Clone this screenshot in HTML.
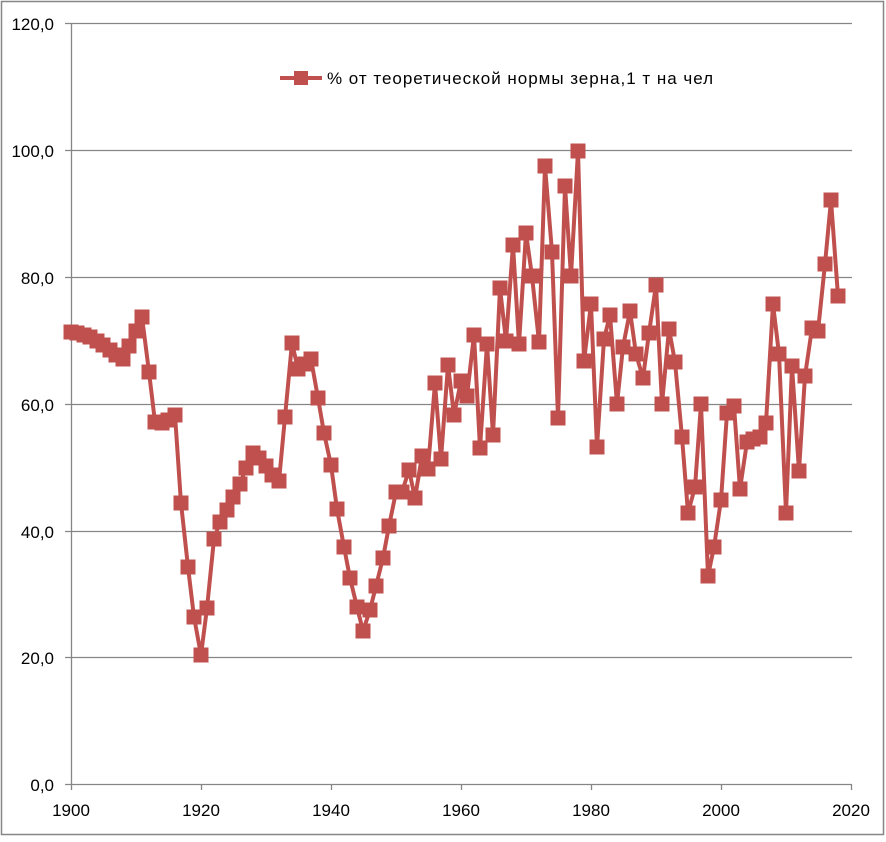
<!DOCTYPE html>
<html><head><meta charset="utf-8"><style>
body{margin:0;background:#fff;}
svg text{font-family:"Liberation Sans",sans-serif;font-size:17px;fill:#000;}
</style></head><body>
<svg width="886" height="837" xmlns="http://www.w3.org/2000/svg">
<rect x="0" y="0" width="886" height="837" fill="#fff"/>
<rect x="1.5" y="1.5" width="882" height="833" fill="none" stroke="#868686" stroke-width="1.5"/>
<g stroke="#868686" stroke-width="1.3">
<line x1="65" y1="23.5" x2="852" y2="23.5"/>
<line x1="65" y1="150.5" x2="852" y2="150.5"/>
<line x1="65" y1="277.5" x2="852" y2="277.5"/>
<line x1="65" y1="404.5" x2="852" y2="404.5"/>
<line x1="65" y1="531.5" x2="852" y2="531.5"/>
<line x1="65" y1="657.5" x2="852" y2="657.5"/>
<line x1="65" y1="784.5" x2="852" y2="784.5"/>
<line x1="71.5" y1="23" x2="71.5" y2="790"/>
<line x1="201.5" y1="784" x2="201.5" y2="790"/>
<line x1="331.5" y1="784" x2="331.5" y2="790"/>
<line x1="461.5" y1="784" x2="461.5" y2="790"/>
<line x1="591.5" y1="784" x2="591.5" y2="790"/>
<line x1="721.5" y1="784" x2="721.5" y2="790"/>
<line x1="851.5" y1="784" x2="851.5" y2="790"/>
</g>
<g text-anchor="end">
<text x="54" y="30">120,0</text><text x="54" y="157">100,0</text><text x="54" y="284">80,0</text>
<text x="54" y="411">60,0</text><text x="54" y="538">40,0</text><text x="54" y="664">20,0</text><text x="54" y="791">0,0</text>
</g>
<g text-anchor="middle">
<text x="71" y="816">1900</text><text x="201" y="816">1920</text><text x="331" y="816">1940</text>
<text x="461" y="816">1960</text><text x="591" y="816">1980</text><text x="721" y="816">2000</text><text x="851" y="816">2020</text>
</g>
<polyline id="s" fill="none" stroke="#c0504d" stroke-width="4" stroke-linejoin="round" points="71,332 77,333 84,335 90,337 97,341 103,345 110,350 116,355 123,359 129,346 136,331 142,317 149,372 155,422 162,423 168,420 175,415 181,503 188,567 194,617 201,655 207,608 214,539 220,522 227,510 233,497 240,484 246,468 253,453 259,458 266,466 272,475 279,481 285,417 292,343 298,369 305,364 311,359 318,398 324,433 331,465 337,509 344,547 350,578 357,607 363,631 370,610 376,586 383,558 389,526 396,492 402,492 409,470 415,498 422,456 428,469 435,383 441,459 448,365 454,415 461,381 467,396 474,335 480,448 487,344 493,435 500,288 506,341 513,245 519,344 526,233 532,276 539,342 545,166 552,252 558,418 565,186 571,276 578,151 584,361 591,304 597,447 604,339 610,315 617,404 623,347 630,311 636,354 643,378 649,333 656,285 662,404 669,329 675,362 682,437 688,513 695,487 701,404 708,576 714,547 721,500 727,413 734,406 740,489 747,442 753,439 760,437 766,423 773,304 779,354 786,513 792,366 799,471 805,376 812,328 818,331 825,264 831,200 838,296"/>
<g id="m" fill="#c0504d" stroke="#c0504d" stroke-width="1"></g>
<line x1="280" y1="78" x2="322" y2="78" stroke="#c0504d" stroke-width="4"/>
<rect x="294" y="71" width="14" height="14" fill="#c0504d"/>
<text x="327" y="84" textLength="386" lengthAdjust="spacing">% от теоретической нормы зерна,1 т на чел</text>
<script>
var p=document.getElementById('s').getAttribute('points').trim().split(/\s+/);
var g=document.getElementById('m');
p.forEach(function(s){var a=s.split(',');var r=document.createElementNS('http://www.w3.org/2000/svg','rect');
r.setAttribute('x',a[0]-7);r.setAttribute('y',a[1]-7);r.setAttribute('width',14);r.setAttribute('height',14);g.appendChild(r);});
</script>
</svg>
</body></html>
